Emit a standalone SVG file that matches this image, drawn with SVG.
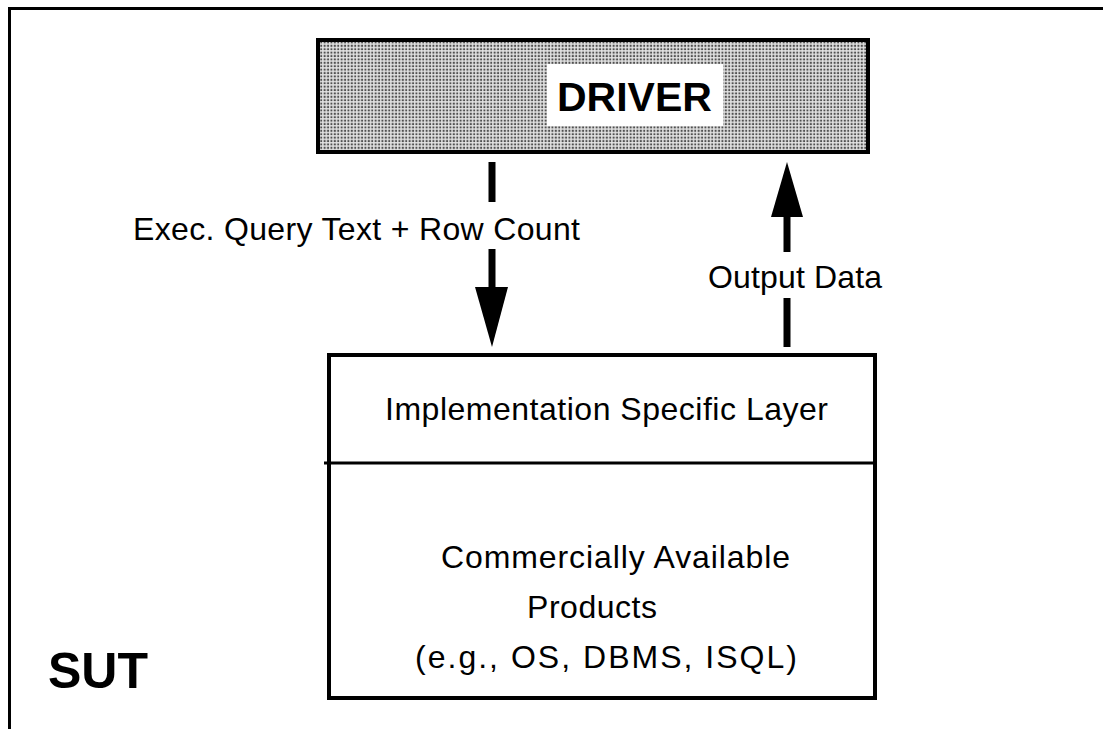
<svg xmlns="http://www.w3.org/2000/svg" width="1103" height="729" viewBox="0 0 1103 729">
<defs>
<pattern id="dots" width="3.4" height="3.4" patternUnits="userSpaceOnUse">
<rect width="3.4" height="3.4" fill="#e4e4e4"/>
<rect x="0.6" y="0.6" width="2" height="2" fill="#505050"/>
</pattern>
<style>
.t{font-family:"Liberation Sans",Arial,sans-serif;font-size:32px;fill:#000}
.b{font-family:"Liberation Sans",Arial,sans-serif;font-weight:bold;fill:#000}
.box{fill:#fff;stroke:#000;stroke-width:4}
.shaft{stroke:#000;stroke-width:7;fill:none}
</style>
</defs>
<rect width="1103" height="729" fill="#fff"/>
<g id="sut">
<rect x="9.5" y="8.5" width="1200" height="800" fill="none" stroke="#000" stroke-width="3"/>
<text class="b" x="48" y="688" font-size="50">SUT</text>
</g>
<g id="driver">
<rect x="318" y="40" width="550" height="112" fill="url(#dots)" stroke="#000" stroke-width="4"/>
<rect x="547" y="64" width="176" height="62" fill="#fff"/>
<text class="b" x="557" y="111" font-size="41">DRIVER</text>
</g>
<g id="layers">
<rect class="box" x="329" y="355" width="546" height="343"/>
<line x1="324" y1="463" x2="875" y2="463" stroke="#000" stroke-width="3"/>
<text class="t" x="385" y="420" textLength="443">Implementation Specific Layer</text>
<text class="t" x="441" y="568" textLength="349">Commercially Available</text>
<text class="t" x="527" y="618" textLength="130">Products</text>
<text class="t" x="415" y="668" textLength="382">(e.g., OS, DBMS, ISQL)</text>
</g>
<g id="connectors">
<line class="shaft" x1="492" y1="162" x2="492" y2="202"/>
<line class="shaft" x1="492" y1="249" x2="492" y2="290"/>
<polygon points="475,287 508,287 492,347"/>
<text class="t" x="133" y="240" textLength="447">Exec. Query Text + Row Count</text>
<polygon points="787,162 771,217 803,217"/>
<line class="shaft" x1="787" y1="215" x2="787" y2="252"/>
<line class="shaft" x1="787" y1="298" x2="787" y2="347"/>
<text class="t" x="708" y="288" textLength="174">Output Data</text>
</g>
</svg>
